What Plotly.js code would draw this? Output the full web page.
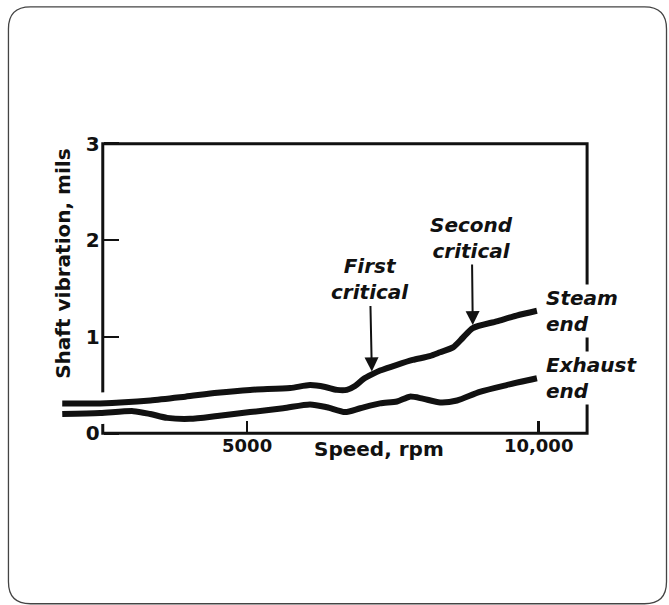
<!DOCTYPE html>
<html>
<head>
<meta charset="utf-8">
<script src="https://cdn.plot.ly/plotly-3.0.1.min.js"></script>
<style>html,body{margin:0;padding:0;background:#fff;}#chart{width:669px;height:605px;}</style>
</head>
<body>
<div id="chart"></div>
<script>
// ---- Data ----
const steamSpeed = [1830, 2480, 3340, 3940, 4490, 5050, 5740, 6080, 6340, 6540, 6710, 6850, 6990, 7140, 7280, 7570, 7840, 8130, 8310, 8530, 8700, 8870, 9280, 9620, 9970];
const steamVib   = [0.31, 0.31, 0.34, 0.38, 0.42, 0.45, 0.47, 0.50, 0.48, 0.45, 0.45, 0.49, 0.56, 0.61, 0.65, 0.71, 0.76, 0.80, 0.84, 0.89, 0.99, 1.09, 1.16, 1.22, 1.27];
const exhaustSpeed = [1830, 2480, 3050, 3340, 3630, 4020, 4490, 5050, 5620, 6080, 6370, 6680, 6940, 7280, 7570, 7790, 8010, 8310, 8600, 8990, 9450, 9970];
const exhaustVib   = [0.20, 0.21, 0.23, 0.20, 0.16, 0.15, 0.18, 0.22, 0.26, 0.30, 0.27, 0.22, 0.26, 0.31, 0.33, 0.38, 0.36, 0.32, 0.34, 0.43, 0.50, 0.57];
const seriesLabels = ["Steam<br>end", "Exhaust<br>end"];
const criticalLabels = ["First<br>critical", "Second<br>critical"];
const criticalSpeeds = [7140, 8870];
const criticalVib = [0.61, 1.09];
const xTickVals = [5000, 10000];
const xTickText = ["5000", "10,000"];
const yTickVals = [0, 1, 2, 3];
const yTickText = ["0", "1", "2", "3"];
const xTitle = "Speed, rpm";
const yTitle = "Shaft vibration, mils";

// ---- Layout geometry ----
const W = 669, H = 605;
const xRange = [1500, 11000];
const yRange = [-0.1, 3.1];
const frameX = [2525, 10830];
const M = {l: 42.6, r: 71.6, t: 134.37, b: 162.37};
const pw = W - M.l - M.r, ph = H - M.t - M.b;
const px = x => (x - M.l) / pw;
const py = y => (H - M.b - y) / ph;

const FONT = "DejaVu Sans";
const ink = "#111";

const halo = (x, y) => ({x: x, y: y, type: "scatter", mode: "lines", hoverinfo: "skip",
  line: {color: "#fff", width: 22, shape: "spline", smoothing: 0.7}, showlegend: false});
const curve = (x, y, n) => ({x: x, y: y, type: "scatter", mode: "lines", name: n,
  line: {color: ink, width: 6, shape: "spline", smoothing: 0.7}, showlegend: false});

const traces = [
  halo(steamSpeed, steamVib), halo(exhaustSpeed, exhaustVib),
  curve(steamSpeed, steamVib, "Steam end"), curve(exhaustSpeed, exhaustVib, "Exhaust end")
];

// rounded outer border (decoration) in paper coords
function roundedPath(x0, y0, x1, y1, r) {
  const P = (x, y) => px(x).toFixed(5) + "," + py(y).toFixed(5);
  return "M" + P(x0 + r, y0) + " L" + P(x1 - r, y0) + " Q" + P(x1, y0) + " " + P(x1, y0 + r) +
    " L" + P(x1, y1 - r) + " Q" + P(x1, y1) + " " + P(x1 - r, y1) +
    " L" + P(x0 + r, y1) + " Q" + P(x0, y1) + " " + P(x0, y1 - r) +
    " L" + P(x0, y0 + r) + " Q" + P(x0, y0) + " " + P(x0 + r, y0) + " Z";
}

const labelFont = {family: FONT, size: 20, color: ink, weight: "bold", style: "italic"};
const annotations = [];
const ends = [[steamSpeed, steamVib], [exhaustSpeed, exhaustVib]];
seriesLabels.forEach((t, i) => {
  const xs = ends[i][0], ys = ends[i][1];
  annotations.push({x: xs[xs.length - 1], y: ys[ys.length - 1], xref: "x", yref: "y",
    text: t, showarrow: false, xanchor: "left", yanchor: "middle", xshift: 7, align: "left",
    bgcolor: "#fff", borderpad: 1, font: labelFont});
});
const critOffsets = [[-2, -95], [-1, -90]];
criticalLabels.forEach((t, i) => {
  annotations.push({x: criticalSpeeds[i], y: criticalVib[i], xref: "x", yref: "y",
    text: t, showarrow: true, ax: critOffsets[i][0], ay: critOffsets[i][1],
    arrowhead: 2, arrowsize: 1.4, arrowwidth: 2, arrowcolor: ink, standoff: 3,
    font: labelFont, align: "center"});
});
annotations.push({x: 7260, y: py(449), xref: "x", yref: "paper", text: xTitle, showarrow: false,
  xanchor: "center", yanchor: "middle", font: {family: FONT, size: 20, color: ink, weight: "bold"}});
annotations.push({x: px(63), y: py(263.5), xref: "paper", yref: "paper", text: yTitle, showarrow: false,
  textangle: -90, xanchor: "center", yanchor: "middle", font: {family: FONT, size: 20, color: ink, weight: "bold"}});

const layout = {
  width: W, height: H, margin: M,
  paper_bgcolor: "#fff", plot_bgcolor: "rgba(0,0,0,0)",
  showlegend: false,
  xaxis: {range: xRange, anchor: "free", position: (0 - yRange[0]) / (yRange[1] - yRange[0]),
    showgrid: false, zeroline: false, showline: false, automargin: false,
    tickmode: "array", tickvals: xTickVals, ticktext: xTickText,
    ticks: "inside", ticklen: 12, tickwidth: 2.5, tickcolor: ink,
    tickfont: {family: FONT, size: 18, color: ink, weight: "bold"}},
  yaxis: {range: yRange, anchor: "free", position: (frameX[0] - xRange[0]) / (xRange[1] - xRange[0]),
    showgrid: false, zeroline: false, showline: false, automargin: false,
    tickmode: "array", tickvals: yTickVals, ticktext: yTickText,
    ticks: "inside", ticklen: 15, tickwidth: 2.5, tickcolor: ink, ticklabelstandoff: 3,
    tickfont: {family: FONT, size: 20, color: ink, weight: "bold"}},
  shapes: [
    {type: "rect", xref: "x", yref: "y", x0: frameX[0], x1: frameX[1], y0: 0, y1: 3,
      line: {color: ink, width: 3}, fillcolor: "rgba(0,0,0,0)", layer: "below"},
    {type: "path", xref: "paper", yref: "paper", path: roundedPath(8, 7.5, 667, 603, 22),
      line: {color: "#444", width: 1.3}, fillcolor: "rgba(0,0,0,0)", layer: "above"}
  ],
  annotations: annotations
};

Plotly.newPlot("chart", traces, layout, {displayModeBar: false, staticPlot: true});
</script>
</body>
</html>
